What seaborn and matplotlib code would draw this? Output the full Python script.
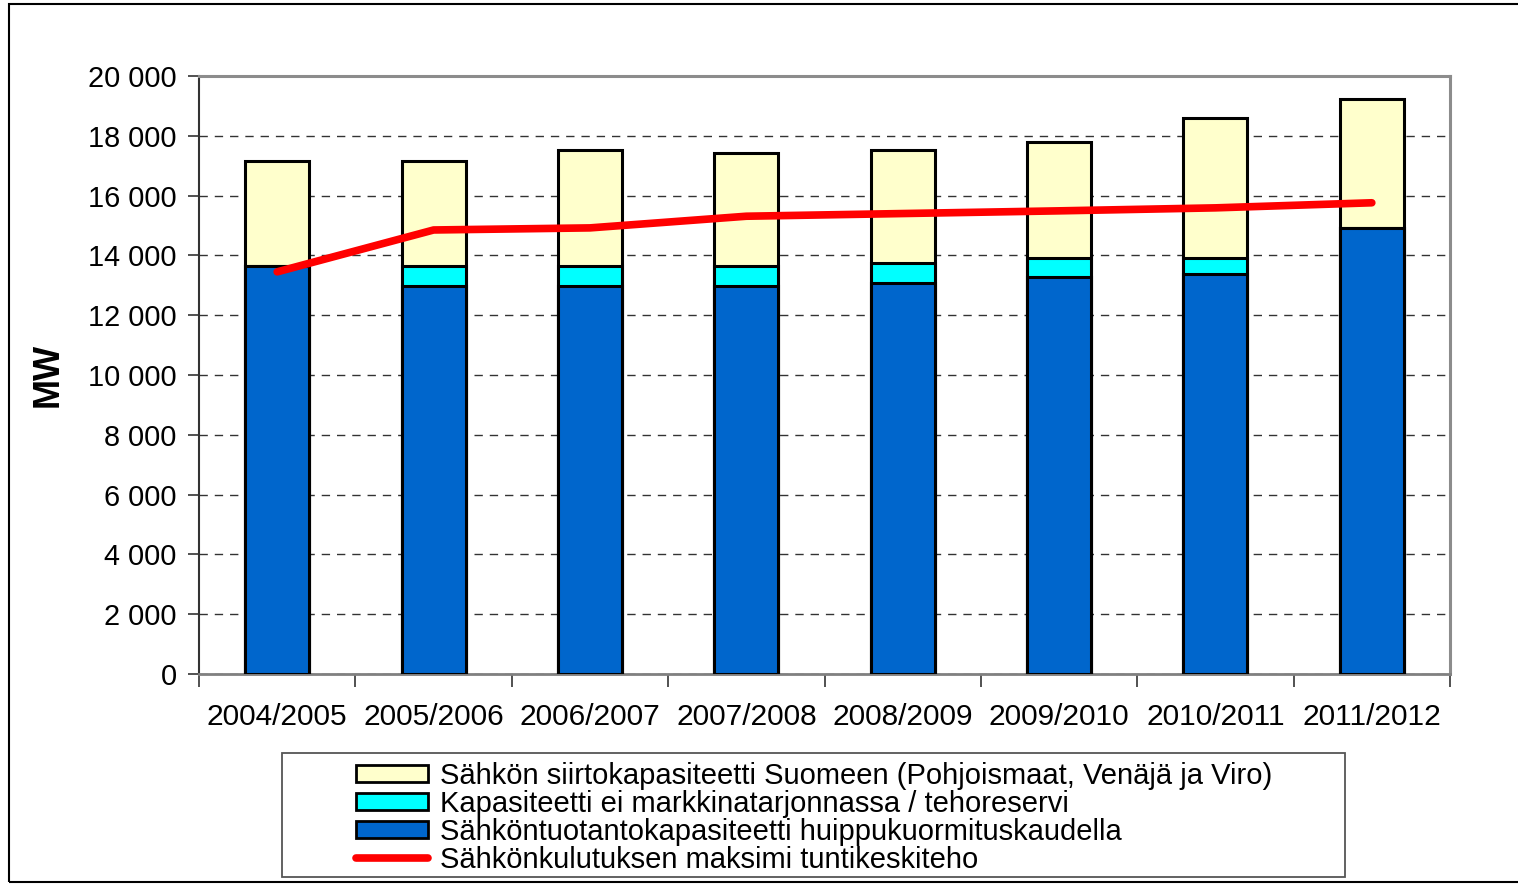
import numpy as np
import pandas as pd
import matplotlib
matplotlib.use("Agg")
import matplotlib.pyplot as plt
import seaborn as sns
from matplotlib.patches import Rectangle
from matplotlib.lines import Line2D
from matplotlib.ticker import FuncFormatter, FixedLocator

# Data (MW)
seasons = ["2004/2005", "2005/2006", "2006/2007", "2007/2008",
           "2008/2009", "2009/2010", "2010/2011", "2011/2012"]
production = [13630, 12990, 12990, 12990, 13085, 13275, 13365, 14920]
reserve = [0, 640, 640, 640, 655, 635, 545, 0]
transfer = [3520, 3520, 3890, 3800, 3780, 3870, 4700, 4320]
peak_load = [13450, 14850, 14920, 15310, 15400, 15490, 15590, 15760]

labels = [
    "Sähkön siirtokapasiteetti Suomeen (Pohjoismaat, Venäjä ja Viro)",
    "Kapasiteetti ei markkinatarjonnassa / tehoreservi",
    "Sähköntuotantokapasiteetti huippukuormituskaudella",
    "Sähkönkulutuksen maksimi tuntikeskiteho",
]
c_yellow = "#FFFFCC"
c_cyan = "#00FFFF"
c_blue = "#0066CC"
c_red = "#FF0000"

df = pd.DataFrame({"season": seasons, "prod": production,
                   "res": reserve, "trans": transfer, "peak": peak_load})
df["lvl2"] = df["prod"] + df["res"]
df["lvl3"] = df["lvl2"] + df["trans"]

sns.set_style("white")
plt.rcParams["font.family"] = ["Liberation Sans", "DejaVu Sans"]
plt.rcParams["text.color"] = "black"
plt.rcParams["axes.labelcolor"] = "black"
plt.rcParams["xtick.color"] = "black"
plt.rcParams["ytick.color"] = "black"

fig = plt.figure(figsize=(15.18, 8.85), dpi=100)
ax = fig.add_axes([199 / 1518, 1 - 674 / 885, 1251 / 1518, 598 / 885])

# stacked bars drawn back to front
bar_kw = dict(width=0.41, edgecolor="black", linewidth=2.2, zorder=3)
sns.barplot(data=df, x="season", y="lvl3", color=c_yellow, saturation=1, ax=ax, **bar_kw)
sns.barplot(data=df, x="season", y="lvl2", color=c_cyan, saturation=1, ax=ax, **bar_kw)
sns.barplot(data=df, x="season", y="prod", color=c_blue, saturation=1, ax=ax, **bar_kw)

sns.lineplot(x=np.arange(len(seasons)), y=df["peak"], color=c_red, linewidth=5.5,
             solid_capstyle="round", ax=ax, zorder=5)

ax.set_xlim(-0.5, len(seasons) - 0.5)
ax.set_ylim(0, 20000)
ax.set_yticks(np.arange(0, 20001, 2000))
ax.yaxis.set_major_formatter(FuncFormatter(lambda v, p: f"{int(v):,}".replace(",", " ")))
ax.yaxis.grid(True, linestyle=(0, (6, 5)), color="#333333", linewidth=1.0, zorder=0)
ax.set_axisbelow(True)

ax.set_xlabel("")
ax.set_ylabel("MW", fontsize=26, fontweight="bold", labelpad=16)
ax.tick_params(axis="y", direction="out", length=8, width=1.2, color="#333333",
               labelcolor="black", labelsize=20.8, pad=8, left=True)
ax.tick_params(axis="x", which="major", length=0, labelsize=21.5, pad=21,
               labelcolor="black")
ax.xaxis.set_minor_locator(FixedLocator(np.arange(-0.5, len(seasons), 1.0)))
ax.tick_params(axis="x", which="minor", direction="out", length=9, width=1.2,
               color="#333333", bottom=True)

for side in ["top", "right"]:
    ax.spines[side].set_color("#8c8c8c")
    ax.spines[side].set_linewidth(2.2)
ax.spines["left"].set_color("#333333")
ax.spines["left"].set_linewidth(1.5)
ax.spines["bottom"].set_color("#808080")
ax.spines["bottom"].set_linewidth(2)

# outer frame of the chart
fig.patches.append(Rectangle((9 / 1518, 3 / 885), 1.1, 1 - 7 / 885, transform=fig.transFigure,
                             fill=False, edgecolor="black", linewidth=1.5))

# legend box
fig.patches.append(Rectangle((282 / 1518, 1 - 877 / 885), 1063 / 1518, 124 / 885,
                             transform=fig.transFigure, fill=False,
                             edgecolor="#555555", linewidth=1.3, zorder=1))
handles = [
    Rectangle((0, 0), 1, 1, facecolor=c_yellow, edgecolor="black", linewidth=2),
    Rectangle((0, 0), 1, 1, facecolor=c_cyan, edgecolor="black", linewidth=2),
    Rectangle((0, 0), 1, 1, facecolor=c_blue, edgecolor="black", linewidth=2),
    Line2D([0], [0], color=c_red, linewidth=5.5, solid_capstyle="round"),
]
leg = fig.legend(handles, labels, loc="upper left",
                 bbox_to_anchor=(356 / 1518, 1 - 762 / 885),
                 frameon=False, fontsize=21, handlelength=2.47, handleheight=0.55,
                 handletextpad=0.41, labelspacing=0.0, borderpad=0, borderaxespad=0)
for t in leg.get_texts():
    t.set_color("black")

fig.savefig("out.png", dpi=100, facecolor="white")
